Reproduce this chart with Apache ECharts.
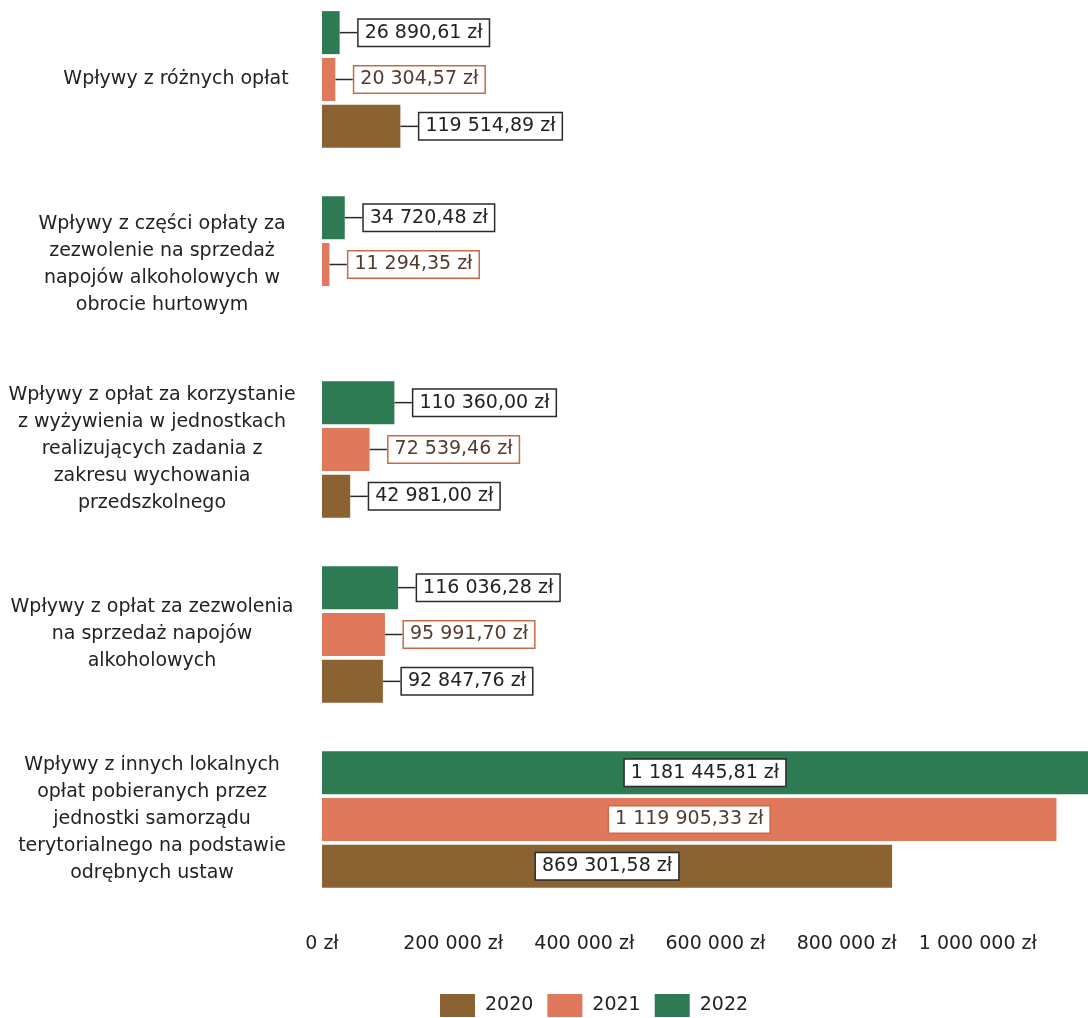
<!DOCTYPE html>
<html>
<head>
<meta charset="utf-8">
<script src="https://cdn.jsdelivr.net/npm/echarts@6/dist/echarts.min.js"></script>
<style>html,body{margin:0;padding:0;background:#fff;overflow:hidden}#c{position:absolute;left:0;top:-13px;width:1088px;height:1031px}</style>
</head>
<body>
<div id="c"></div>
<script>
const categories = [
  "Wpływy z różnych opłat",
  "Wpływy z części opłaty za\nzezwolenie na sprzedaż\nnapojów alkoholowych w\nobrocie hurtowym",
  "Wpływy z opłat za korzystanie\nz wyżywienia w jednostkach\nrealizujących zadania z\nzakresu wychowania\nprzedszkolnego",
  "Wpływy z opłat za zezwolenia\nna sprzedaż napojów\nalkoholowych",
  "Wpływy z innych lokalnych\nopłat pobieranych przez\njednostki samorządu\nterytorialnego na podstawie\nodrębnych ustaw"
];
const years = ["2020", "2021", "2022"];
const values2020 = [119514.89, null, 42981.00, 92847.76, 869301.58];
const values2021 = [20304.57, 11294.35, 72539.46, 95991.70, 1119905.33];
const values2022 = [26890.61, 34720.48, 110360.00, 116036.28, 1181445.81];
const xTicks = [0, 200000, 400000, 600000, 800000, 1000000];

const FONT = "DejaVu Sans";
function fmtPL(v, dec) {
  const neg = v < 0; v = Math.abs(v);
  let s = v.toFixed(dec);
  let [ip, fp] = s.split(".");
  ip = ip.replace(/\B(?=(\d{3})+(?!\d))/g, " ");
  return (neg ? "-" : "") + ip + (fp ? "," + fp : "") + " zł";
}
const colors = {"2020": "#8b6231", "2021": "#e0785b", "2022": "#2e7b53"};
const labelStyles = {
  "2020": {border: "#2a2a2a", text: "#222"},
  "2021": {border: "#c96a46", text: "#553a30"},
  "2022": {border: "#2a2a2a", text: "#222"}
};
const lastIdx = categories.length - 1;

function makeSeries(name, data) {
  const ls = labelStyles[name];
  return {
    name: name,
    type: "bar",
    data: data.map((v, i) => {
      const val = v == null ? "-" : v;
      if (i === lastIdx) return {value: val, label: {position: "inside"}};
      return val;
    }),
    barWidth: 43,
    barGap: "9%",
    itemStyle: {color: colors[name]},
    label: {
      show: true,
      position: "right",
      distance: 0,
      formatter: p => fmtPL(p.value, 2),
      fontFamily: FONT,
      fontSize: 19,
      color: ls.text,
      backgroundColor: "#fff",
      borderColor: ls.border,
      borderWidth: 1.5,
      padding: [4, 6, 3, 6]
    },
    labelLayout: function (params) {
      if (params.dataIndex === lastIdx) return {};
      return {dx: 19};
    },
    labelLine: {show: true, lineStyle: {color: "#2a2a2a", width: 1.5}}
  };
}

const chart = echarts.init(document.getElementById("c"));
chart.setOption({
  animation: false,
  backgroundColor: "#fff",
  grid: {left: 322, right: 0, top: 0, height: 925, containLabel: false},
  legend: {
    data: years,
    left: 440,
    top: 1007,
    icon: "rect",
    itemWidth: 35,
    itemHeight: 23,
    itemGap: 14,
    padding: 0,
    textStyle: {fontFamily: FONT, fontSize: 19, color: "#222", padding: [0, 0, 0, 5]}
  },
  xAxis: {
    type: "value",
    min: 0,
    max: 1168000,
    interval: 200000,
    axisLine: {show: false},
    axisTick: {show: false},
    splitLine: {show: false},
    axisLabel: {
      showMaxLabel: false,
      margin: 23,
      fontFamily: FONT,
      fontSize: 19,
      color: "#222",
      formatter: v => xTicks.indexOf(v) >= 0 ? fmtPL(v, 0) : ""
    }
  },
  yAxis: {
    type: "category",
    inverse: true,
    data: categories,
    axisLine: {show: false},
    axisTick: {show: false},
    axisLabel: {
      margin: 170,
      align: "center",
      fontFamily: FONT,
      fontSize: 19,
      lineHeight: 27,
      color: "#222",
      formatter: (v, i) => {
        const lines = v.split("\n");
        const st = i === 0 ? "a" : (i === 1 ? "b" : "n");
        return lines.map(l => "{" + st + "|" + l + "}").join("\n");
      },
      rich: {
        a: {fontFamily: FONT, fontSize: 19, lineHeight: 27, color: "#222", padding: [0, 0, 0, 48]},
        b: {fontFamily: FONT, fontSize: 19, lineHeight: 27, color: "#222", padding: [0, 0, 0, 20]},
        n: {fontFamily: FONT, fontSize: 19, lineHeight: 27, color: "#222"}
      }
    }
  },
  series: [
    makeSeries("2022", values2022),
    makeSeries("2021", values2021),
    makeSeries("2020", values2020)
  ]
});
</script>
</body>
</html>
